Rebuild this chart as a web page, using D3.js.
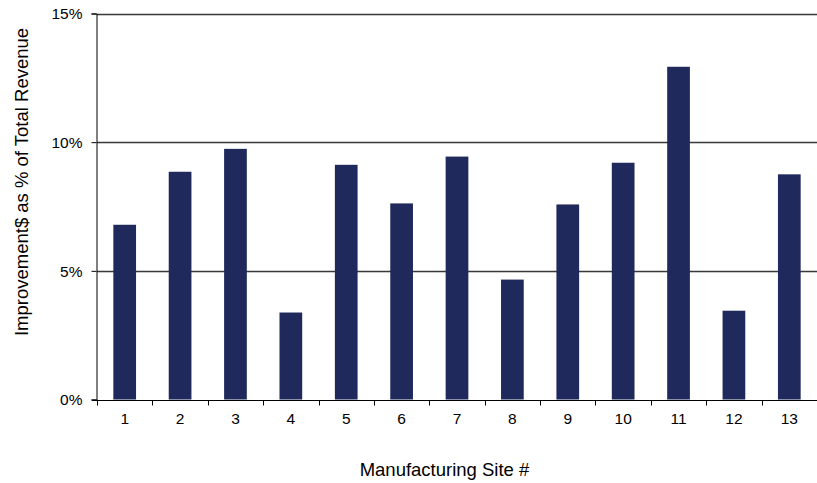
<!DOCTYPE html>
<html><head><meta charset="utf-8">
<script src="https://cdn.jsdelivr.net/npm/d3@7"></script>
<style>body{margin:0;background:#fff}svg{display:block}text{font-family:"Liberation Sans",Arial,sans-serif;fill:#000}</style>
</head><body>
<svg id="c" width="817" height="483"></svg>
<script>
const sites = ["1","2","3","4","5","6","7","8","9","10","11","12","13"];
const values = [6.79, 8.85, 9.74, 3.38, 9.12, 7.62, 9.44, 4.66, 7.58, 9.20, 12.93, 3.45, 8.75];
const yTicks = [0, 5, 10, 15];
const xTitle = "Manufacturing Site #";
const yTitle = "Improvement$ as % of Total Revenue";

const svg = d3.select("#c");
const m = {left: 97, right: 817, top: 13.5, bottom: 399.5};
const x = d3.scaleBand().domain(sites).range([m.left, m.right]).paddingInner(0.59).paddingOuter(0.295);
const xb = d3.scaleBand().domain(sites).range([m.left, m.right]);
const y = d3.scaleLinear().domain([0, 15]).range([m.bottom, m.top]);

// gridlines
svg.append("g").selectAll("line").data(yTicks.filter(d => d > 0)).join("line")
  .attr("x1", m.left).attr("x2", m.right)
  .attr("y1", d => Math.round(y(d)) + 0.5).attr("y2", d => Math.round(y(d)) + 0.5)
  .attr("stroke", "#3a3a3a").attr("stroke-width", 1.3);
svg.append("g").selectAll("line").data(yTicks.filter(d => d > 0)).join("line")
  .attr("x1", m.left).attr("x2", m.right)
  .attr("y1", d => Math.round(y(d)) + 1.5).attr("y2", d => Math.round(y(d)) + 1.5)
  .attr("stroke", "#c8c8c8").attr("stroke-width", 1);

// bars
svg.append("g").selectAll("rect").data(values).join("rect")
  .attr("x", (d, i) => x(sites[i])).attr("width", x.bandwidth())
  .attr("y", d => y(d)).attr("height", d => y(0) - y(d))
  .attr("fill", "#1f295b");

// y axis
const yAxis = svg.append("g").attr("transform", `translate(${m.left - 0.5},0)`)
  .call(d3.axisLeft(y).tickValues(yTicks).tickFormat(d => d + "%").tickSizeOuter(0).tickSize(5).tickPadding(9));
yAxis.attr("font-size", null).attr("font-family", null);
yAxis.select(".domain").attr("stroke", "#000");
yAxis.selectAll(".tick line").attr("stroke", "#000");
yAxis.selectAll("text").style("font-size", "15.5px").attr("dy", "0.35em");

// x axis
const xg = svg.append("g").attr("transform", `translate(0,${Math.round(m.bottom) + 0.5})`);
xg.append("line").attr("x1", m.left - 5).attr("x2", m.right).attr("stroke", "#000");
xg.selectAll("line.t").data(sites.concat(["end"])).join("line").attr("class", "t")
  .attr("x1", (d, i) => Math.round(m.left + i * xb.step()) + 0.5)
  .attr("x2", (d, i) => Math.round(m.left + i * xb.step()) + 0.5)
  .attr("y1", 0).attr("y2", 5).attr("stroke", "#000");
xg.selectAll("text").data(sites).join("text")
  .attr("x", d => x(d) + x.bandwidth() / 2).attr("y", 23.5)
  .attr("text-anchor", "middle").style("font-size", "15.5px").text(d => d);

// titles
svg.append("text").attr("x", 444.5).attr("y", 476)
  .attr("text-anchor", "middle").style("font-size", "18.5px").text(xTitle);
svg.append("text").attr("transform", `translate(28,182) rotate(-90)`)
  .attr("text-anchor", "middle").style("font-size", "18.5px").text(yTitle);
</script>
</body></html>
